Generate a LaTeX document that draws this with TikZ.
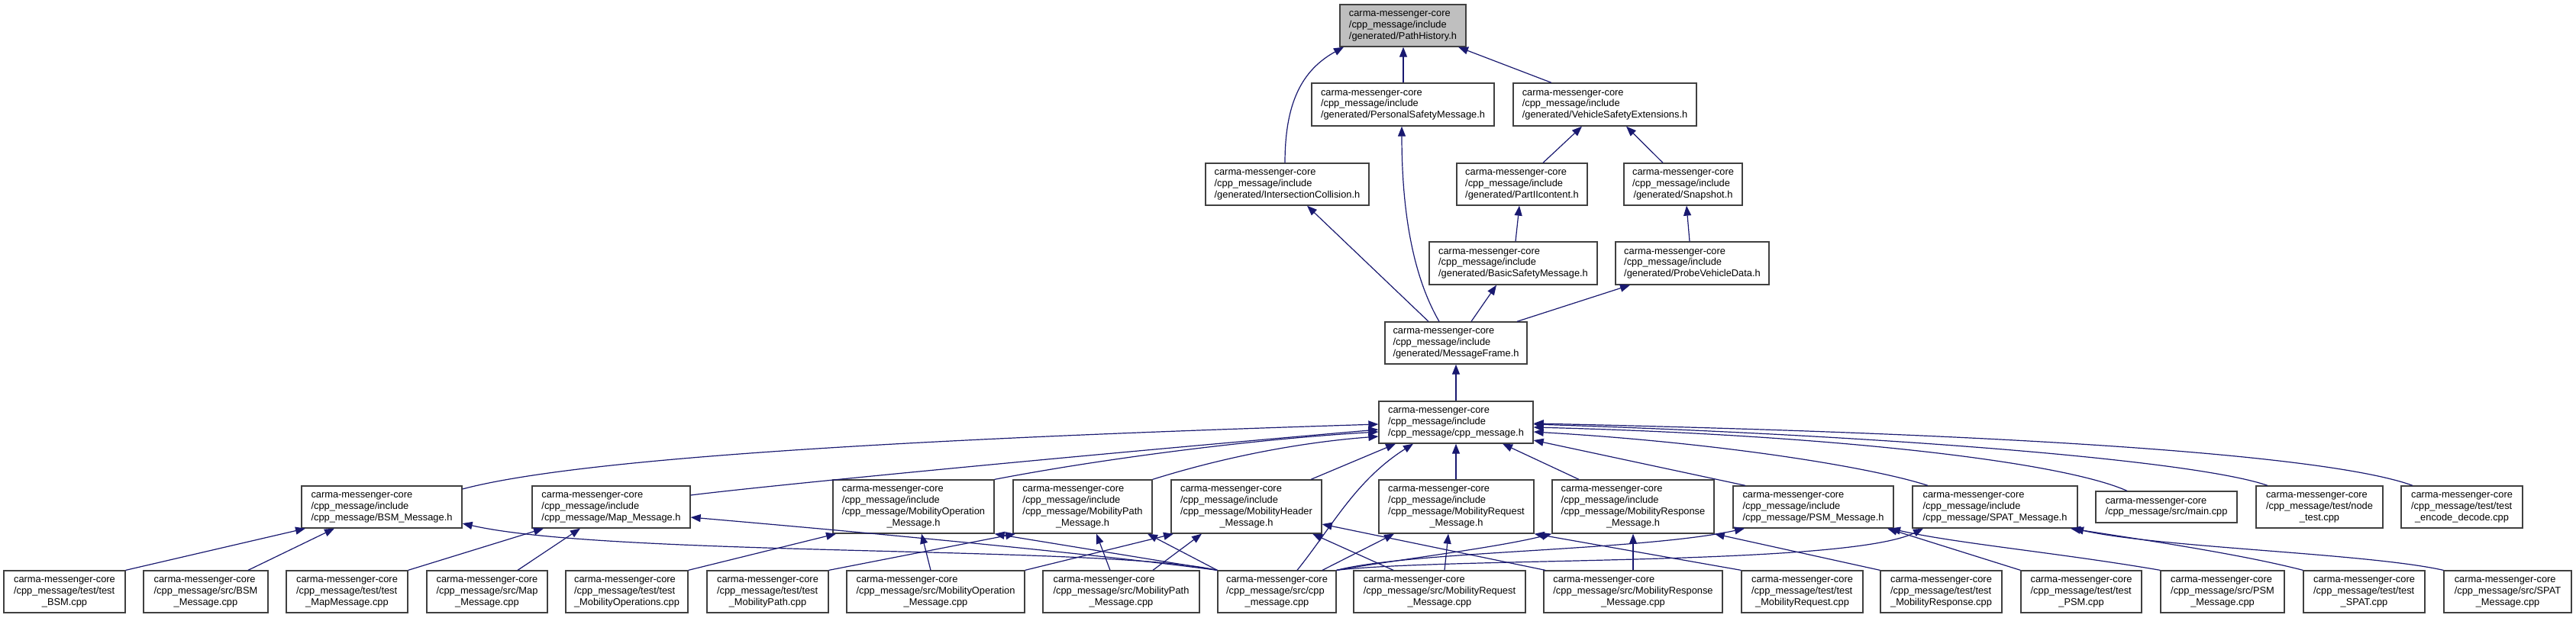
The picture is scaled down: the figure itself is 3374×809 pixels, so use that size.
\documentclass[tikz,border=0pt]{standalone}
\usepackage{fontspec}
\setmainfont{Liberation Sans}
\usetikzlibrary{arrows.meta}
\definecolor{edgec}{RGB}{25,25,112}
\definecolor{phfill}{RGB}{191,191,191}
\newcommand\Lthree[3]{\begin{tabular}{@{}l@{}}#1\\#2\\\multicolumn{1}{@{}c@{}}{#3}\end{tabular}}
\newcommand\Lfour[4]{\begin{tabular}{@{}l@{}}#1\\#2\\#3\\\multicolumn{1}{@{}c@{}}{#4}\end{tabular}}
\newcommand\Ltwo[2]{\begin{tabular}{@{}l@{}}#1\\#2\end{tabular}}
\newcommand\cmc{carma-messenger-core}
\newcommand\mkbox[7][]{\node[nbox,#1,minimum width={(#4)-(#3)},minimum height={(#6)-(#5)}] (#2) at ({((#3)+(#4))/2},{((#5)+(#6))/2}) {#7};}
\tikzset{
  nbox/.style={draw=black!75, line width=1.3pt, fill=white, inner sep=0pt, text=black,
    font=\fontsize{12.85}{14.7}\selectfont},
  dep/.style={draw=edgec, line width=1.2pt, -{Triangle[length=13pt,width=10pt]}}
}
\begin{document}
\begin{tikzpicture}[x=1pt,y=-1pt]
\useasboundingbox (0,0) rectangle (3374,809);
% top part
\mkbox[fill=phfill]{ph}{1755}{1920}{6}{61}{\Lthree{\cmc}{/cpp\_message/include}{/generated/PathHistory.h}}
\mkbox{psmg}{1718}{1957}{109}{165}{\Lthree{\cmc}{/cpp\_message/include}{/generated/PersonalSafetyMessage.h}}
\mkbox{vse}{1982}{2222}{109}{165}{\Lthree{\cmc}{/cpp\_message/include}{/generated/VehicleSafetyExtensions.h}}
\mkbox{ic}{1579}{1793}{214}{269}{\Lthree{\cmc}{/cpp\_message/include}{/generated/IntersectionCollision.h}}
\mkbox{p2}{1908}{2079}{214}{269}{\Lthree{\cmc}{/cpp\_message/include}{/generated/PartIIcontent.h}}
\mkbox{snap}{2127}{2282}{214}{269}{\Lthree{\cmc}{/cpp\_message/include}{/generated/Snapshot.h}}
\mkbox{bsmg}{1872}{2092}{317}{373}{\Lthree{\cmc}{/cpp\_message/include}{/generated/BasicSafetyMessage.h}}
\mkbox{pvd}{2116}{2317}{317}{373}{\Lthree{\cmc}{/cpp\_message/include}{/generated/ProbeVehicleData.h}}
\mkbox{mf}{1814}{2000}{422}{477}{\Lthree{\cmc}{/cpp\_message/include}{/generated/MessageFrame.h}}
\mkbox{cpph}{1806}{2008}{526}{581}{\Lthree{\cmc}{/cpp\_message/include}{/cpp\_message/cpp\_message.h}}
% header row
\mkbox{bsmh}{395}{605}{637}{692}{\Lthree{\cmc}{/cpp\_message/include}{/cpp\_message/BSM\_Message.h}}
\mkbox{maph}{697}{904}{637}{692}{\Lthree{\cmc}{/cpp\_message/include}{/cpp\_message/Map\_Message.h}}
\mkbox{moph}{1091}{1302}{629}{699}{\Lfour{\cmc}{/cpp\_message/include}{/cpp\_message/MobilityOperation}{\_Message.h}}
\mkbox{mpath}{1327}{1509}{629}{699}{\Lfour{\cmc}{/cpp\_message/include}{/cpp\_message/MobilityPath}{\_Message.h}}
\mkbox{mhead}{1534}{1731}{629}{699}{\Lfour{\cmc}{/cpp\_message/include}{/cpp\_message/MobilityHeader}{\_Message.h}}
\mkbox{mreq}{1806}{2009}{629}{699}{\Lfour{\cmc}{/cpp\_message/include}{/cpp\_message/MobilityRequest}{\_Message.h}}
\mkbox{mresp}{2033}{2245}{629}{699}{\Lfour{\cmc}{/cpp\_message/include}{/cpp\_message/MobilityResponse}{\_Message.h}}
\mkbox{psmh}{2270}{2480}{637}{692}{\Lthree{\cmc}{/cpp\_message/include}{/cpp\_message/PSM\_Message.h}}
\mkbox{spath}{2505}{2721}{637}{692}{\Lthree{\cmc}{/cpp\_message/include}{/cpp\_message/SPAT\_Message.h}}
\mkbox{main}{2745}{2930}{644}{685}{\Ltwo{\cmc}{/cpp\_message/src/main.cpp}}
\mkbox{nodet}{2955}{3121}{637}{692}{\Lthree{\cmc}{/cpp\_message/test/node}{\_test.cpp}}
\mkbox{encdec}{3145}{3304}{637}{692}{\Lthree{\cmc}{/cpp\_message/test/test}{\_encode\_decode.cpp}}
% bottom row
\mkbox{tbsm}{5}{164}{748}{803}{\Lthree{\cmc}{/cpp\_message/test/test}{\_BSM.cpp}}
\mkbox{sbsm}{188}{351}{748}{803}{\Lthree{\cmc}{/cpp\_message/src/BSM}{\_Message.cpp}}
\mkbox{tmap}{375}{534}{748}{803}{\Lthree{\cmc}{/cpp\_message/test/test}{\_MapMessage.cpp}}
\mkbox{smap}{559}{717}{748}{803}{\Lthree{\cmc}{/cpp\_message/src/Map}{\_Message.cpp}}
\mkbox{tmops}{741}{901}{748}{803}{\Lthree{\cmc}{/cpp\_message/test/test}{\_MobilityOperations.cpp}}
\mkbox{tmpath}{926}{1085}{748}{803}{\Lthree{\cmc}{/cpp\_message/test/test}{\_MobilityPath.cpp}}
\mkbox{smop}{1109}{1342}{748}{803}{\Lthree{\cmc}{/cpp\_message/src/MobilityOperation}{\_Message.cpp}}
\mkbox{smpath}{1366}{1571}{748}{803}{\Lthree{\cmc}{/cpp\_message/src/MobilityPath}{\_Message.cpp}}
\mkbox{scpp}{1595}{1750}{748}{803}{\Lthree{\cmc}{/cpp\_message/src/cpp}{\_message.cpp}}
\mkbox{smreq}{1773}{1998}{748}{803}{\Lthree{\cmc}{/cpp\_message/src/MobilityRequest}{\_Message.cpp}}
\mkbox{smresp}{2022}{2256}{748}{803}{\Lthree{\cmc}{/cpp\_message/src/MobilityResponse}{\_Message.cpp}}
\mkbox{tmreq}{2281}{2440}{748}{803}{\Lthree{\cmc}{/cpp\_message/test/test}{\_MobilityRequest.cpp}}
\mkbox{tmresp}{2463}{2622}{748}{803}{\Lthree{\cmc}{/cpp\_message/test/test}{\_MobilityResponse.cpp}}
\mkbox{tpsm}{2647}{2805}{748}{803}{\Lthree{\cmc}{/cpp\_message/test/test}{\_PSM.cpp}}
\mkbox{spsm}{2830}{2992}{748}{803}{\Lthree{\cmc}{/cpp\_message/src/PSM}{\_Message.cpp}}
\mkbox{tspat}{3017}{3176}{748}{803}{\Lthree{\cmc}{/cpp\_message/test/test}{\_SPAT.cpp}}
\mkbox{sspat}{3201}{3368}{748}{803}{\Lthree{\cmc}{/cpp\_message/src/SPAT}{\_Message.cpp}}
% edges: top part
\draw[dep] (1683,0 |- ic.north) .. controls (1683,135) and (1705,92) .. (1760,0 |- ph.south);
\draw[dep] (1838,0 |- psmg.north) -- (1838,0 |- ph.south);
\draw[dep] (2032,0 |- vse.north) -- (1910,0 |- ph.south);
\draw[dep] (2021,0 |- p2.north) -- (2072,0 |- vse.south);
\draw[dep] (2178,0 |- snap.north) -- (2130,0 |- vse.south);
\draw[dep] (1985,0 |- bsmg.north) -- (1990,0 |- p2.south);
\draw[dep] (2213,0 |- pvd.north) -- (2209,0 |- snap.south);
\draw[dep] (1871,0 |- mf.north) -- (1712,0 |- ic.south);
\draw[dep] (1885,0 |- mf.north) .. controls (1858,375) and (1836,300) .. (1836,0 |- psmg.south);
\draw[dep] (1927,0 |- mf.north) -- (1960,0 |- bsmg.south);
\draw[dep] (1987,0 |- mf.north) -- (2135,0 |- pvd.south);
\draw[dep] (1907,0 |- cpph.north) -- (1907,0 |- mf.south);
% edges into cpp_message.h
\draw[dep] (bsmh.east |- 0,641) .. controls (760,600) and (1200,575) .. (cpph.west |- 0,556);
\draw[dep] (maph.east |- 0,649) .. controls (1000,637) and (1400,598) .. (cpph.west |- 0,563);
\draw[dep] (moph.north east) .. controls (1450,600) and (1650,575) .. (cpph.west |- 0,566);
\draw[dep] (mpath.north east) .. controls (1600,600) and (1700,580) .. (cpph.west |- 0,572);
\draw[dep] (1717,0 |- mhead.north) -- (1828,0 |- cpph.south);
\draw[dep] (1699,0 |- scpp.north) .. controls (1745,690) and (1775,630) .. (1851,0 |- cpph.south);
\draw[dep] (1907,0 |- mreq.north) -- (1907,0 |- cpph.south);
\draw[dep] (2068,0 |- mresp.north) -- (1968,0 |- cpph.south);
\draw[dep] (2286,0 |- psmh.north) -- (cpph.east |- 0,577);
\draw[dep] (2525,0 |- spath.north) .. controls (2450,612) and (2250,580) .. (cpph.east |- 0,566);
\draw[dep] (2786,0 |- main.north) .. controls (2700,605) and (2400,570) .. (cpph.east |- 0,560);
\draw[dep] (2970,0 |- nodet.north) .. controls (2880,605) and (2500,572) .. (cpph.east |- 0,556);
\draw[dep] (3160,0 |- encdec.north) .. controls (3060,600) and (2700,570) .. (cpph.east |- 0,555);
% edges into header files
\draw[dep] (tbsm.north east) -- (400,0 |- bsmh.south);
\draw[dep] (325,0 |- sbsm.north) -- (438,0 |- bsmh.south);
\draw[dep] (scpp.north west) .. controls (1450,715) and (800,730) .. (bsmh.east |- 0,686);
\draw[dep] (tmap.north east) -- (712,0 |- maph.south);
\draw[dep] (678,0 |- smap.north) -- (760,0 |- maph.south);
\draw[dep] (scpp.north west) .. controls (1400,722) and (1100,695) .. (maph.east |- 0,678);
\draw[dep] (tmops.north east) -- (1095,0 |- moph.south);
\draw[dep] (1219,0 |- smop.north) -- (1207,0 |- moph.south);
\draw[dep] (scpp.north west) -- (moph.south east);
\draw[dep] (tmpath.north east) -- (1330,0 |- mpath.south);
\draw[dep] (1454,0 |- smpath.north) -- (1436,0 |- mpath.south);
\draw[dep] (scpp.north west) -- (1503,0 |- mpath.south);
\draw[dep] (smop.north east) -- (1537,0 |- mhead.south);
\draw[dep] (1510,0 |- smpath.north) -- (1574,0 |- mhead.south);
\draw[dep] (1825,0 |- smreq.north) -- (1719,0 |- mhead.south);
\draw[dep] (2024,0 |- smresp.north) -- (mhead.east |- 0,687);
\draw[dep] (1732,0 |- scpp.north) -- (1826,0 |- mreq.south);
\draw[dep] (1892,0 |- smreq.north) -- (1897,0 |- mreq.south);
\draw[dep] (tmreq.north west) -- (mreq.south east);
\draw[dep] (scpp.north east) .. controls (1820,735) and (1960,718) .. (mresp.south west);
\draw[dep] (2139,0 |- smresp.north) -- (2139,0 |- mresp.south);
\draw[dep] (tmresp.north west) -- (mresp.south east);
\draw[dep] (scpp.north east) .. controls (1850,722) and (2150,722) .. (2285,0 |- psmh.south);
\draw[dep] (tpsm.north west) -- (2472,0 |- psmh.south);
\draw[dep] (spsm.north west) .. controls (2700,725) and (2560,712) .. (2476,0 |- psmh.south);
\draw[dep] (scpp.north east) .. controls (1900,730) and (2420,742) .. (2519,0 |- spath.south);
\draw[dep] (tspat.north west) .. controls (2930,725) and (2790,705) .. (2712,0 |- spath.south);
\draw[dep] (sspat.north west) .. controls (3100,725) and (2830,718) .. (2716,0 |- spath.south);
\end{tikzpicture}
\end{document}
